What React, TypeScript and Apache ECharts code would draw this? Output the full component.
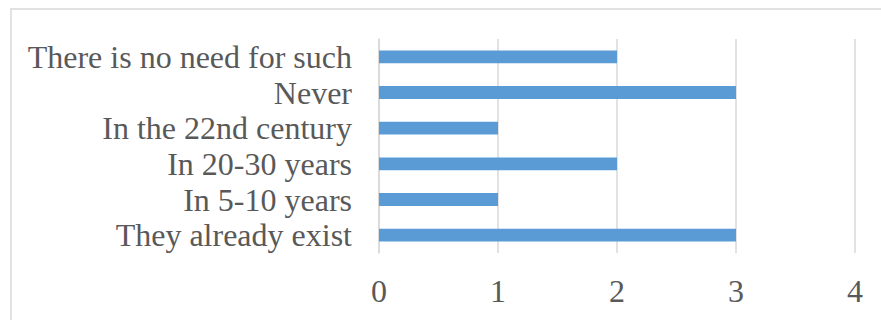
import React, { useEffect, useRef } from "react";
import * as echarts from "echarts";

const categories = [
  "They already exist",
  "In 5-10 years",
  "In 20-30 years",
  "In the 22nd century",
  "Never",
  "There is no need for such",
];
const values = [3, 1, 2, 1, 3, 2];
const axisMin = 0;
const axisMax = 4;
const axisInterval = 1;

const FONT = '"Liberation Serif", "Times New Roman", serif';

export default function App() {
  const ref = useRef<HTMLDivElement>(null);
  useEffect(() => {
    document.body.style.margin = "0";
    const chart = echarts.init(ref.current!, null, { renderer: "svg" });
    chart.setOption({
      animation: false,
      backgroundColor: "#ffffff",
      graphic: [
        {
          type: "line",
          shape: { x1: 10, y1: 9, x2: 881, y2: 9 },
          style: { stroke: "#d9d9d9", lineWidth: 1.5 },
        },
        {
          type: "line",
          shape: { x1: 11, y1: 9, x2: 11, y2: 320 },
          style: { stroke: "#d9d9d9", lineWidth: 1.5 },
        },
      ],
      grid: { left: 379, right: 26, top: 39, bottom: 67, containLabel: false },
      xAxis: {
        type: "value",
        min: axisMin,
        max: axisMax,
        interval: axisInterval,
        axisLine: { show: false },
        axisTick: { show: false },
        splitLine: { show: true, lineStyle: { color: "#d9d9d9", width: 1.5 } },
        axisLabel: {
          color: "#595959",
          fontFamily: FONT,
          fontSize: 32,
          margin: 22,
        },
      },
      yAxis: {
        type: "category",
        data: categories,
        axisLine: { show: true, lineStyle: { color: "#d9d9d9", width: 1.5 } },
        axisTick: { show: false },
        axisLabel: {
          color: "#595959",
          fontFamily: FONT,
          fontSize: 32,
          margin: 27,
          interval: 0,
          hideOverlap: false,
        },
      },
      series: [
        {
          type: "bar",
          data: values,
          barWidth: "36%",
          itemStyle: { color: "#5b9bd5" },
        },
      ],
    });
    return () => chart.dispose();
  }, []);
  return <div ref={ref} style={{ width: 881, height: 320 }} />;
}
